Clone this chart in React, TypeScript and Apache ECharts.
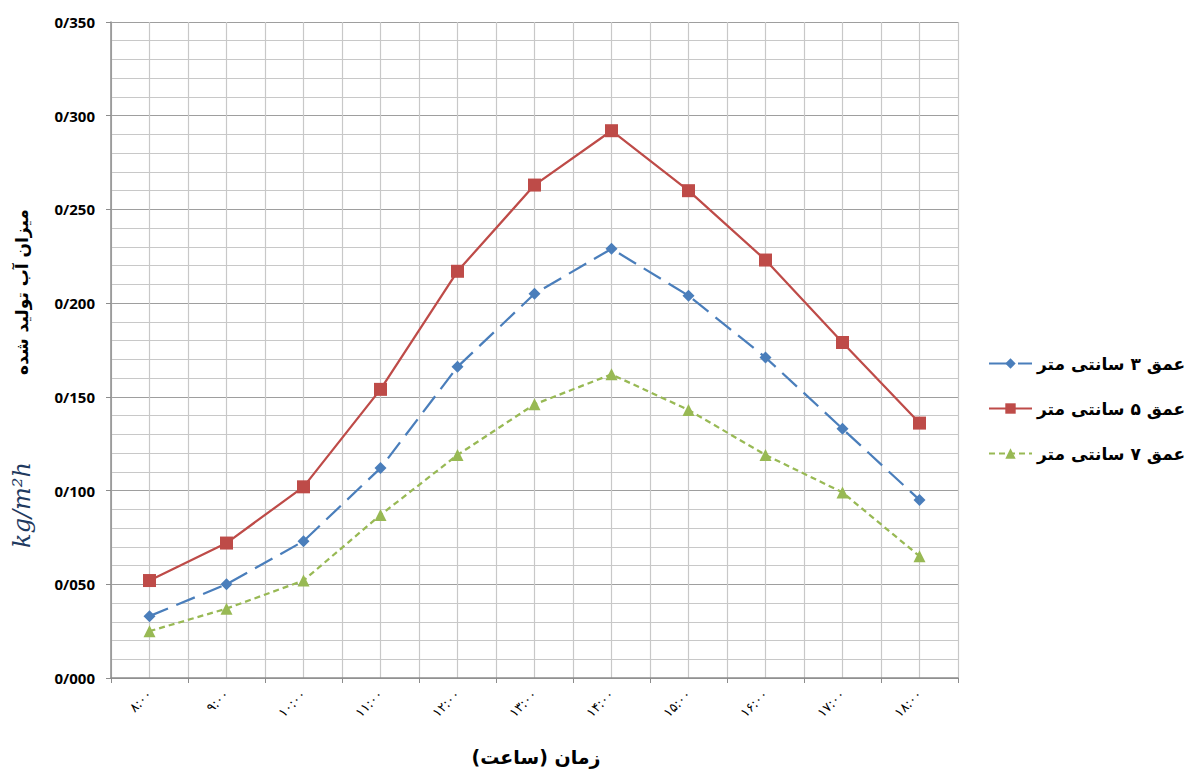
import React, { useEffect, useRef } from "react";
import * as echarts from "echarts";

const categories = ["۸:۰۰", "۹:۰۰", "۱۰:۰۰", "۱۱:۰۰", "۱۲:۰۰", "۱۳:۰۰", "۱۴:۰۰", "۱۵:۰۰", "۱۶:۰۰", "۱۷:۰۰", "۱۸:۰۰"];
const depth3 = [0.033, 0.050, 0.073, 0.112, 0.166, 0.205, 0.229, 0.204, 0.171, 0.133, 0.095];
const depth5 = [0.052, 0.072, 0.102, 0.154, 0.217, 0.263, 0.292, 0.260, 0.223, 0.179, 0.136];
const depth7 = [0.025, 0.037, 0.052, 0.087, 0.119, 0.146, 0.162, 0.143, 0.119, 0.099, 0.065];
const seriesNames = ["عمق ۳ سانتی متر", "عمق ۵ سانتی متر", "عمق ۷ سانتی متر"];
const xTitle = "زمان (ساعت)";
const yTitle = "میزان آب تولید شده";
const yUnit = "kg/m²h";

export default function App() {
  const ref = useRef<HTMLDivElement>(null);
  useEffect(() => {
    if (!ref.current) return;
    const chart = echarts.init(ref.current, null, { renderer: "svg" });
    const font = "'DejaVu Sans', 'Noto Sans', sans-serif";
    chart.setOption({
      animation: false,
      backgroundColor: "#ffffff",
      grid: { left: 111, right: 234, top: 22, bottom: 96, containLabel: false },
      legend: {
        orient: "vertical",
        left: 983,
        top: 350,
        itemGap: 28,
        itemWidth: 43,
        itemHeight: 13,
        textStyle: { fontFamily: font, fontWeight: "bold", fontSize: 17, color: "#000" },
        data: seriesNames,
      },
      xAxis: [
        {
          type: "category",
          data: categories,
          boundaryGap: true,
          axisLine: { lineStyle: { color: "#8c8c8c", width: 1.5 } },
          axisTick: { show: true, length: 5, lineStyle: { color: "#8c8c8c" } },
          axisLabel: { rotate: 45, fontSize: 13, color: "#000", fontFamily: font, margin: 14 },
          splitLine: { show: false },
        },
        {
          type: "value",
          min: 0,
          max: 22,
          interval: 1,
          position: "bottom",
          axisLine: { show: false },
          axisTick: { show: false },
          axisLabel: { show: false },
          splitLine: { show: true, lineStyle: { color: "#c8c8c8", width: 1.2 } },
        },
      ],
      yAxis: {
        type: "value",
        min: 0,
        max: 0.35,
        interval: 0.05,
        axisLine: { show: true, lineStyle: { color: "#8c8c8c", width: 1.5 } },
        axisTick: { show: true, length: 5, lineStyle: { color: "#8c8c8c" } },
        axisLabel: {
          fontFamily: "'Open Sans', 'Liberation Sans', sans-serif",
          fontWeight: "bold",
          fontSize: 15,
          color: "#000",
          margin: 16,
          formatter: (v: number) => v.toFixed(3).replace(".", "/"),
        },
        splitLine: { show: true, lineStyle: { color: "#9e9e9e", width: 1.2 } },
        minorTick: { show: false, splitNumber: 5 },
        minorSplitLine: { show: true, lineStyle: { color: "#c8c8c8", width: 1.2 } },
      },
      graphic: [
        {
          type: "text",
          x: 22,
          y: 292,
          rotation: Math.PI / 2,
          style: {
            text: yTitle,
            fontFamily: font,
            fontWeight: "bold",
            fontSize: 17,
            fill: "#000",
            align: "center",
            verticalAlign: "middle",
          },
        },
        {
          type: "text",
          x: 22,
          y: 505,
          rotation: Math.PI / 2,
          style: {
            text: yUnit,
            fontFamily: "'DejaVu Serif', serif",
            fontStyle: "italic",
            fontSize: 24,
            fill: "#1f3a60",
            align: "center",
            verticalAlign: "middle",
          },
        },
        {
          type: "text",
          x: 536,
          y: 757,
          style: {
            text: xTitle,
            fontFamily: font,
            fontWeight: "bold",
            fontSize: 19,
            fill: "#000",
            align: "center",
            verticalAlign: "middle",
          },
        },
      ],
      series: [
        {
          name: seriesNames[0],
          type: "line",
          data: depth3,
          symbol: "diamond",
          symbolSize: 12,
          itemStyle: { color: "#4A7EBB" },
          lineStyle: { color: "#4A7EBB", width: 2.25, type: [20, 9] },
        },
        {
          name: seriesNames[1],
          type: "line",
          data: depth5,
          symbol: "rect",
          symbolSize: 13,
          itemStyle: { color: "#BE4B48" },
          lineStyle: { color: "#BE4B48", width: 2.25, type: "solid" },
        },
        {
          name: seriesNames[2],
          type: "line",
          data: depth7,
          symbol: "triangle",
          symbolSize: 12,
          itemStyle: { color: "#98B954" },
          lineStyle: { color: "#98B954", width: 2.25, type: [6, 4] },
        },
      ],
    });
    return () => chart.dispose();
  }, []);
  return <div ref={ref} style={{ position: "fixed", left: 0, top: 0, width: 1192, height: 774 }} />;
}
